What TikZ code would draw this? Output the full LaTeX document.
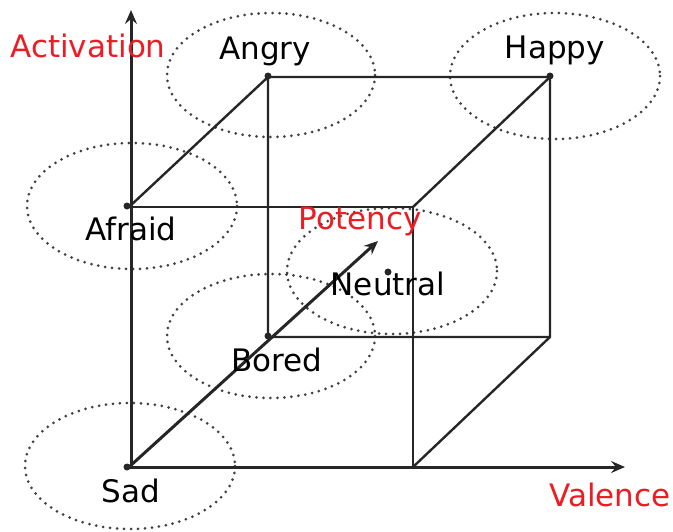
\documentclass[tikz,border=0pt]{standalone}
\usepackage{fontspec}
\setmainfont{DejaVu Sans}
\usetikzlibrary{arrows.meta}
\definecolor{lblred}{RGB}{237,28,36}
\begin{document}
\begin{tikzpicture}[x=1pt,y=-1pt,
  axis/.style={line width=3pt,draw=black!85,-{Stealth[length=14pt,width=12pt,inset=5pt]}},
  edge/.style={line width=2.4pt,draw=black!85},
  halo/.style={draw=black!75,line width=3pt,dash pattern=on 0pt off 7pt,line cap=round},
  pt/.style={circle,fill=black!85,inner sep=0pt,minimum size=7pt},
  lbl/.style={font=\fontsize{31}{34}\selectfont,text=black,inner sep=0pt},
  axlbl/.style={font=\fontsize{31}{34}\selectfont,text=lblred,inner sep=0pt}]
\useasboundingbox (0,0) rectangle (673,531);
% dotted regions
\draw[halo] (271,75) ellipse [x radius=104, y radius=62];
\draw[halo] (555,76) ellipse [x radius=105, y radius=63];
\draw[halo] (132,206) ellipse [x radius=105, y radius=63];
\draw[halo] (392,271) ellipse [x radius=105, y radius=63];
\draw[halo] (271,336) ellipse [x radius=104, y radius=62];
\draw[halo] (130,466) ellipse [x radius=105, y radius=63];
% cube corners
\coordinate (O) at (129,467);
\coordinate (FR) at (413,467);
\coordinate (FTR) at (413,207);
\coordinate (FTL) at (129,207);
\coordinate (BBL) at (268,337);
\coordinate (BBR) at (550,337);
\coordinate (BTR) at (550,77);
\coordinate (BTL) at (268,77);
\coordinate (ytip) at (131,10);
\coordinate (xtip) at (625,467);
\coordinate (ztip) at (378,241);
% cube edges
\draw[edge] (FTL) -- (FTR) -- (FR);
\draw[edge] (FTL) -- (BTL) -- (BTR) -- (BBR) -- (BBL) -- (BTL);
\draw[edge] (BTR) -- (FTR);
\draw[edge] (BBR) -- (FR);
% axes
\draw[axis] (131,469) -- (ytip);
\draw[axis] (O) -- (xtip);
\draw[axis] (O) -- (ztip);
% points
\node[pt] (sad) at (127,467) {};
\node[pt] (afraid) at (127,206) {};
\node[pt] (angry) at (268,76) {};
\node[pt] (happy) at (550,76) {};
\node[pt] (bored) at (268,336) {};
\node[pt] (neutral) at (388,272) {};
% labels
\node[axlbl] (lact) at (88,46) {Activation};
\node[axlbl] (lpot) at (360,221) {Potency};
\node[axlbl] (lval) at (610,495) {Valence};
\node[lbl] (langry) at (265,51) {Angry};
\node[lbl] (lhappy) at (555,50) {Happy};
\node[lbl] (lafraid) at (131,229) {Afraid};
\node[lbl] (lneutral) at (388,284) {Neutral};
\node[lbl] (lbored) at (277,360) {Bored};
\node[lbl] (lsad) at (131,491) {Sad};
\end{tikzpicture}
\end{document}
